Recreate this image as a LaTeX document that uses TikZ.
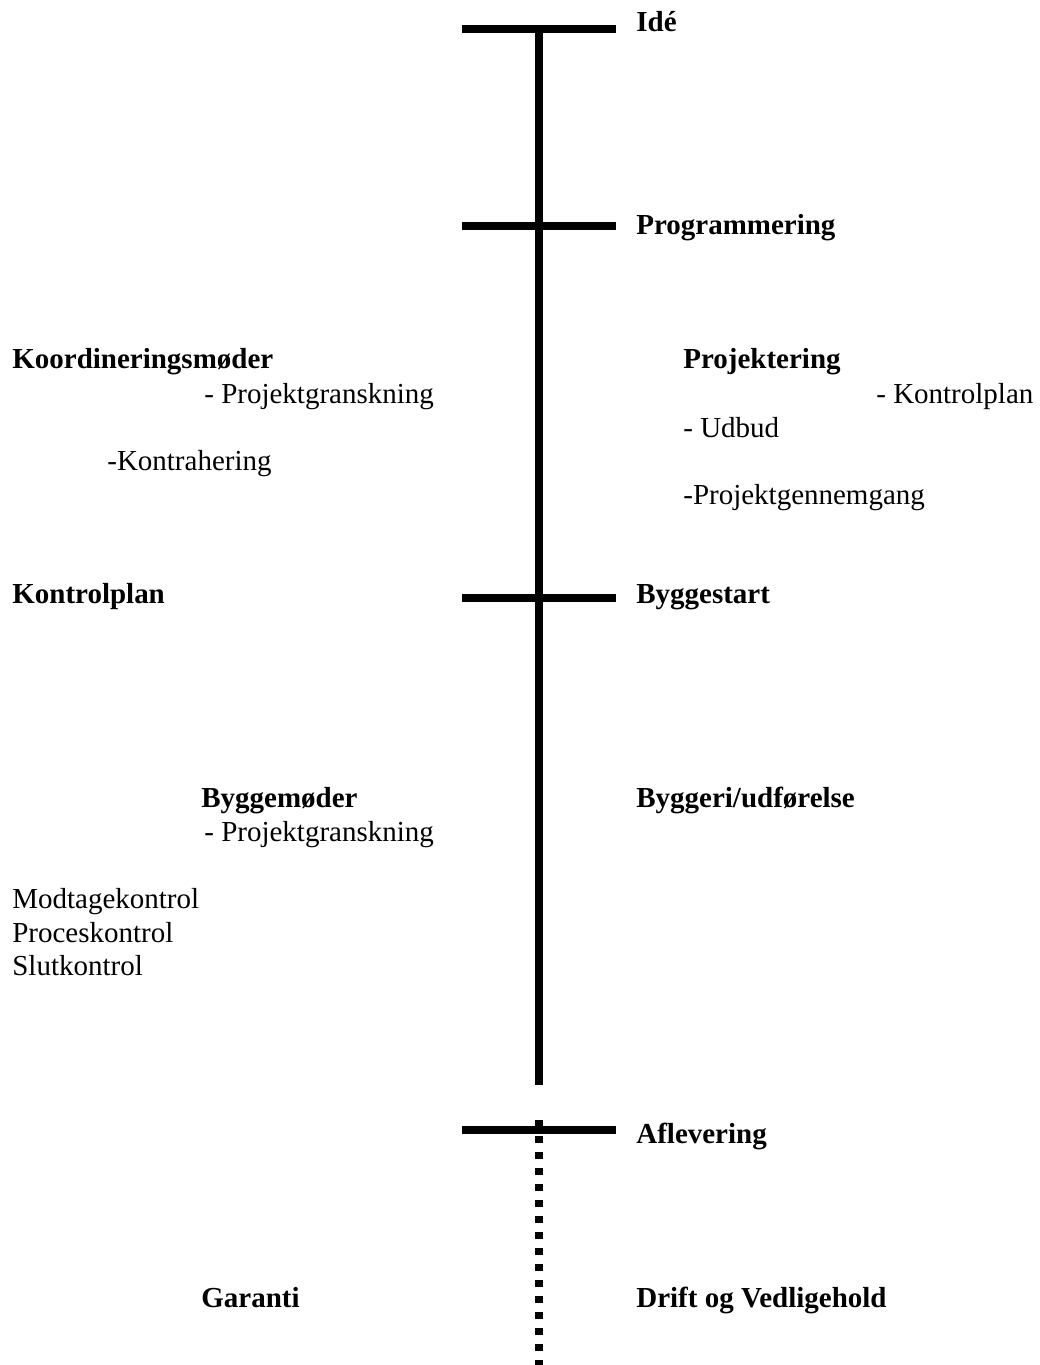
\documentclass[tikz,border=0pt]{standalone}
\usepackage{fontspec}
\setmainfont{Liberation Serif}
\usetikzlibrary{positioning}

\begin{document}
\begin{tikzpicture}[x=0.02cm,y={(0cm,-0.02cm)},
  axis line/.style={line width=4.6pt},
  tick line/.style={line width=4.3pt},
  dot line/.style={line width=4.3pt,dash pattern=on 4pt off 5.1pt},
  phase/.style={anchor=base west,inner sep=0pt,font=\fontsize{16.5}{19}\selectfont\bfseries},
  note/.style={anchor=base west,inner sep=0pt,font=\fontsize{16.5}{19}\selectfont}]
  \useasboundingbox (0,0) rectangle (1040,1365);

  % timeline
  \coordinate (top) at (539,26);
  \coordinate (solidend) at (539,1085);
  \coordinate (dotstart) at (539,1120);
  \coordinate (bottom) at (539,1365);
  \draw[axis line] (top) -- (solidend);
  \draw[dot line] (dotstart) -- (bottom);

  % milestones
  \foreach \name/\y in {ide/29,prog/226,start/598,afl/1130} {
    \coordinate (\name L) at (462,\y);
    \coordinate (\name R) at (616,\y);
    \draw[tick line] (\name L) -- (\name R);
  }

  % right side
  \node[phase] (ide) at (636,32) {Idé};
  \node[phase] (prog) at (636,235) {Programmering};
  \node[phase] (proj) at (683,368) {Projektering};
  \node[note] (kplan) at (876,403) {- Kontrolplan};
  \node[note] (udbud) at (683,437) {- Udbud};
  \node[note] (gennem) at (683,504) {-Projektgennemgang};
  \node[phase] (bstart) at (636,603) {Byggestart};
  \node[phase] (udf) at (636,807) {Byggeri/udførelse};
  \node[phase] (afl) at (636,1143) {Aflevering};
  \node[phase] (drift) at (636,1307) {Drift og Vedligehold};

  % left side
  \node[phase] (koord) at (12,368) {Koordineringsmøder};
  \node[note] (gransk1) at (204,403) {- Projektgranskning};
  \node[note] (kontra) at (107,470) {-Kontrahering};
  \node[phase] (kontrol) at (12,603) {Kontrolplan};
  \node[phase] (bmoder) at (201,807) {Byggemøder};
  \node[note] (gransk2) at (204,841) {- Projektgranskning};
  \node[note] (modt) at (12,908) {Modtagekontrol};
  \node[note] (proc) at (12,942) {Proceskontrol};
  \node[note] (slut) at (12,975) {Slutkontrol};
  \node[phase] (garanti) at (201,1307) {Garanti};
\end{tikzpicture}
\end{document}
